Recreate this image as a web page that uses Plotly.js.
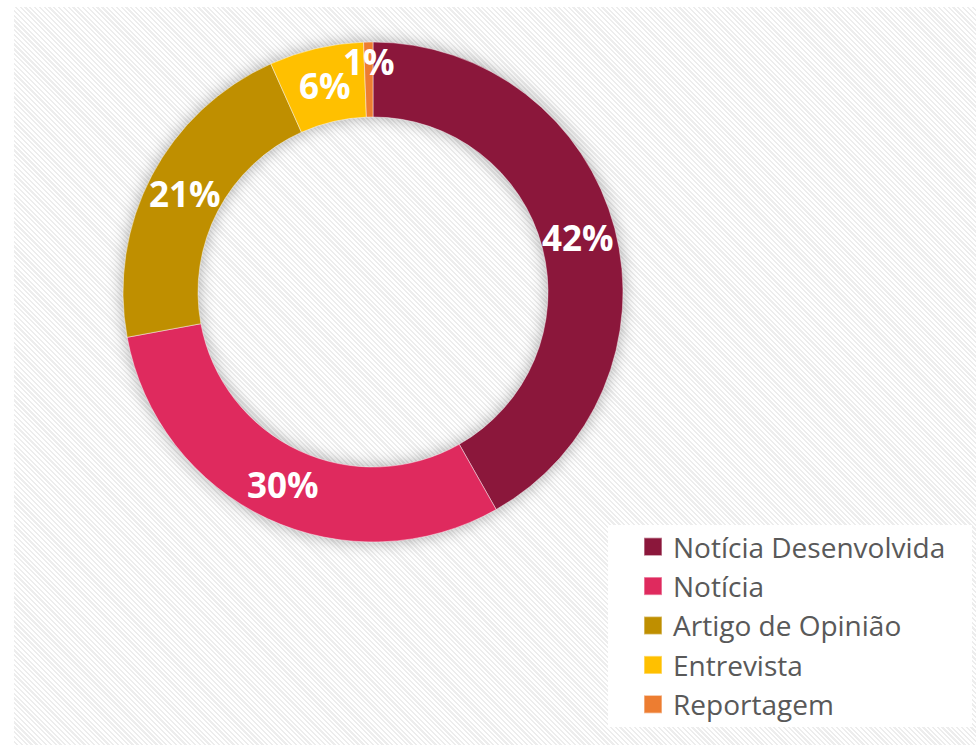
<!DOCTYPE html>
<html>
<head>
<meta charset="utf-8">
<script src="https://cdn.plot.ly/plotly-3.0.1.min.js"></script>
<style>
    body {
        margin: 0;
        background: #ffffff;
    }
    #pattern {
        position: absolute;
        left: 14px;
        top: 7px;
        width: 962px;
        height: 738px;
        background: repeating-linear-gradient(45deg, #ffffff 0px, #ffffff 1.8px, #ededed 1.8px, #ededed 3.4px);
    }
    #chart-container {
        position: absolute;
        left: 0;
        top: 0;
        width: 976px;
        height: 745px;
    }
    .pielayer .trace {
        filter: drop-shadow(0px 0px 8px rgba(0, 0, 0, 0.32));
    }
    path.legendpie {
        transform: translate(20px, 0px) scale(1.5);
    }
</style>
</head>
<body>
<div id="pattern"></div>
<div id="chart-container"></div>
<script>
const categories = ["Notícia Desenvolvida", "Notícia", "Artigo de Opinião", "Entrevista", "Reportagem"]
const shares = [41.8, 30.3, 21.2, 6.1, 0.6]
const colors = ["#8B173B", "#DF2A5E", "#BF8F00", "#FFC000", "#ED7D31"]

const W = 976
const H = 745
// donut centre and radii in pixels
const cx = 373
const cy = 292
const outerR = 250
const holeRatio = 0.7

function buildLabels() {
    const total = shares.reduce((a, b) => a + b, 0)
    const midR = outerR * (1 + holeRatio) / 2
    let cum = 0
    const annotations = []
    shares.forEach((v, i) => {
        const frac = v / total
        const theta = (cum + frac / 2) * 2 * Math.PI
        cum += frac
        // tiny slices get their label pushed a bit outward
        const r = frac < 0.02 ? midR + 18 : midR
        const px = cx + r * Math.sin(theta)
        const py = cy - r * Math.cos(theta)
        annotations.push({
            x: px / W,
            y: (H - py) / H,
            xref: 'paper',
            yref: 'paper',
            xanchor: 'center',
            yanchor: 'middle',
            text: Math.round(frac * 100) + '%',
            showarrow: false,
            font: { family: 'Open Sans', size: 35, color: '#ffffff', weight: 700 }
        })
    })
    return annotations
}

const trace = {
    type: 'pie',
    labels: categories,
    values: shares,
    hole: holeRatio,
    sort: false,
    direction: 'clockwise',
    rotation: 0,
    textinfo: 'none',
    hoverinfo: 'label+percent',
    marker: {
        colors: colors,
        line: { color: 'rgba(255,255,255,0.45)', width: 1 }
    },
    domain: {
        x: [(cx - outerR) / W, (cx + outerR) / W],
        y: [(H - cy - outerR) / H, (H - cy + outerR) / H]
    }
}

const layout = {
    width: W,
    height: H,
    margin: { l: 0, r: 0, t: 0, b: 0 },
    paper_bgcolor: 'rgba(0,0,0,0)',
    plot_bgcolor: 'rgba(0,0,0,0)',
    showlegend: true,
    legend: {
        x: 633 / W,
        xanchor: 'left',
        y: (H - 522) / H,
        yanchor: 'top',
        bgcolor: 'rgba(0,0,0,0)',
        font: { family: 'Open Sans', size: 28, color: '#595959' },
        traceorder: 'normal'
    },
    shapes: [
        {
            type: 'rect',
            xref: 'paper',
            yref: 'paper',
            x0: 608 / W,
            x1: 972 / W,
            y0: (H - 727) / H,
            y1: (H - 525) / H,
            fillcolor: '#ffffff',
            line: { width: 0 },
            layer: 'below'
        }
    ],
    annotations: buildLabels()
}

Plotly.newPlot('chart-container', [trace], layout, { displayModeBar: false, staticPlot: true })
</script>
</body>
</html>
